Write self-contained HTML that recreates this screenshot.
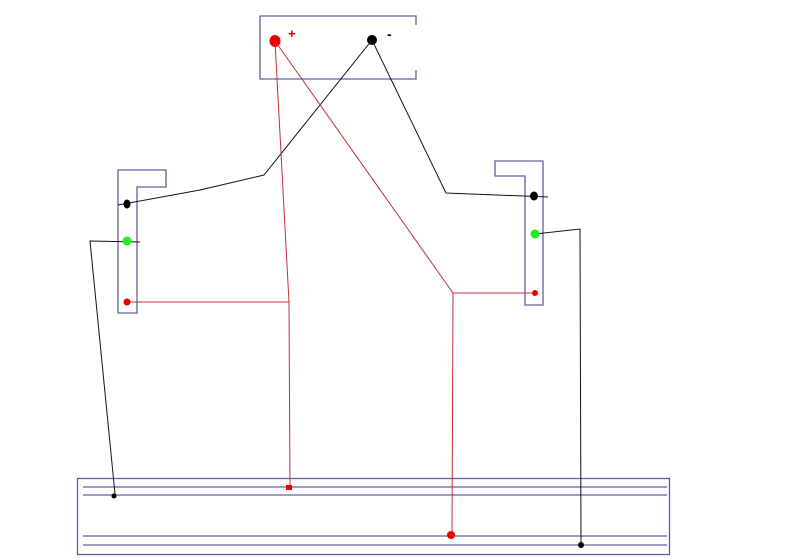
<!DOCTYPE html>
<html><head><meta charset="utf-8"><style>html,body{margin:0;padding:0;background:#fff}svg{display:block}</style></head>
<body>
<svg width="800" height="560" viewBox="0 0 800 560" xmlns="http://www.w3.org/2000/svg">
<g fill="none" stroke="#6a5a9a" stroke-width="1.3">
<!-- battery box -->
<polyline points="416,25 416,16 260,16 260,79 416,79 416,70"/>
<!-- left bracket -->
<polygon points="118,170 166,170 166,187 137,187 137,313 118,313"/>
<!-- right bracket -->
<polygon points="495,161 543,161 543,305 525,305 525,176 495,176"/>
<!-- bottom box -->
<rect x="77.5" y="478.5" width="592" height="76"/>
<line x1="83" y1="487" x2="667" y2="487"/>
<line x1="83" y1="495" x2="667" y2="495"/>
<line x1="83" y1="536" x2="667" y2="536"/>
<line x1="83" y1="545" x2="667" y2="545"/>
</g>
<g fill="none" stroke="#111" stroke-width="1">
<polyline points="118,205 200,190 264,175 372,40"/>
<polyline points="372,40 446,193 548,197"/>
<polyline points="140,242 90,241 115,494"/>
<polyline points="535,234 580,229 581,545"/>
</g>
<g fill="none" stroke="#c0303a" stroke-width="1">
<polyline points="275,41 289,302 290,488"/>
<line x1="127" y1="302" x2="289" y2="302"/>
<polyline points="275,41 453,293 452,535"/>
<line x1="535" y1="293" x2="453" y2="293"/>
</g>
<ellipse cx="275" cy="41" rx="5.5" ry="6" fill="#e00"/>
<circle cx="372" cy="40" r="5" fill="#000"/>
<text x="288" y="38" font-family="Liberation Sans, sans-serif" font-size="13" font-weight="bold" fill="#d00">+</text>
<text x="387" y="39" font-family="Liberation Sans, sans-serif" font-size="14" font-weight="bold" fill="#000">-</text>
<ellipse cx="127" cy="204" rx="3.5" ry="4.5" fill="#000"/>
<circle cx="127" cy="241" r="4.5" fill="#2e2"/>
<circle cx="127" cy="302" r="3.5" fill="#e00"/>
<ellipse cx="534" cy="196" rx="4" ry="4.5" fill="#000"/>
<circle cx="535" cy="234" r="4.5" fill="#2e2"/>
<circle cx="535" cy="293" r="3" fill="#e00"/>
<circle cx="114" cy="496" r="2.5" fill="#000"/>
<rect x="286" y="485" width="6" height="5" fill="#e00"/>
<circle cx="451" cy="535" r="4" fill="#e00"/>
<circle cx="581" cy="545" r="3" fill="#000"/>
</svg>
</body></html>
